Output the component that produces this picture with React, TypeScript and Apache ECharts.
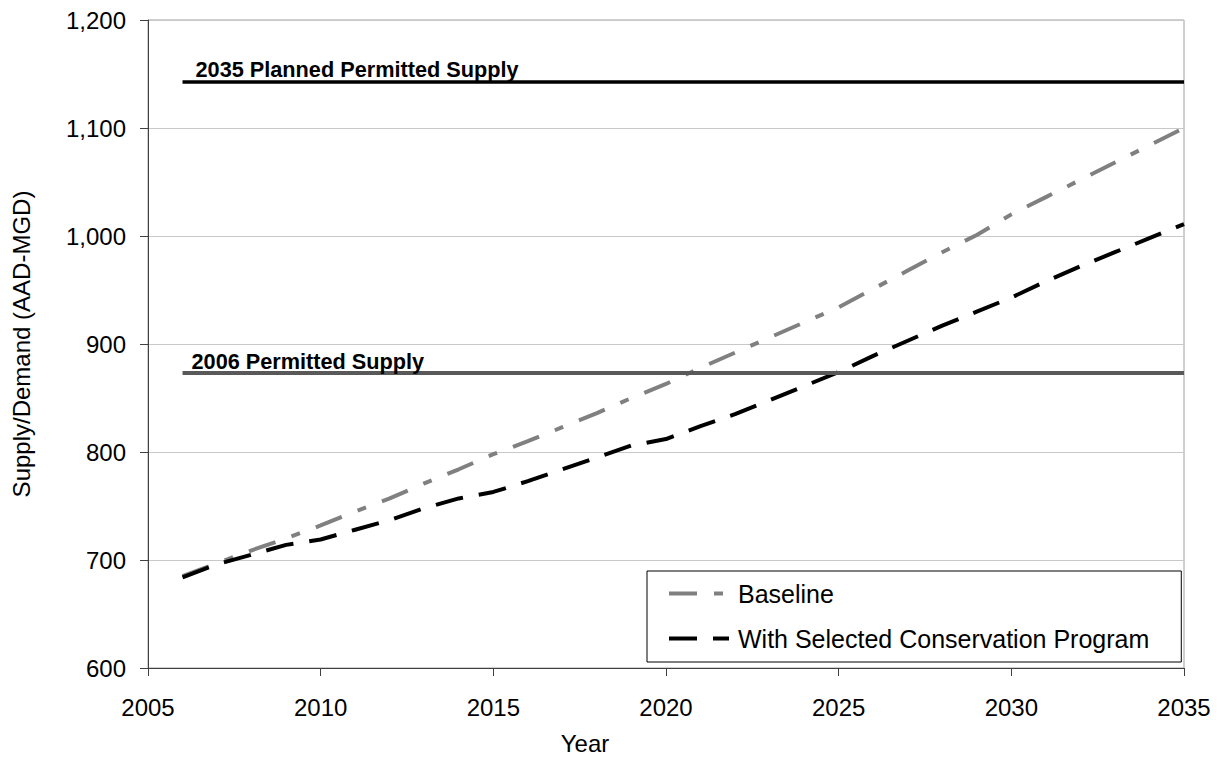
import React, { useEffect, useRef } from "react";
import * as echarts from "echarts";

const years = [
  2006, 2007, 2008, 2009, 2010, 2011, 2012, 2013, 2014, 2015,
  2016, 2017, 2018, 2019, 2020, 2021, 2022, 2023, 2024, 2025,
  2026, 2027, 2028, 2029, 2030, 2031, 2032, 2033, 2034, 2035,
];
const baseline = [
  685, 697, 709, 720, 732, 745, 757, 771, 784, 798,
  810, 823, 836, 850, 863, 878, 892, 906, 920, 934,
  951, 968, 985, 1001, 1020, 1036, 1052, 1068, 1084, 1100,
];
const conservation = [
  684, 696, 705, 714, 719, 728, 737, 748, 757, 763,
  773, 784, 795, 806, 812, 824, 835, 848, 861, 874,
  889, 903, 917, 930, 943, 958, 972, 985, 998, 1011,
];
const supplyNames = ["2035 Planned Permitted Supply", "2006 Permitted Supply"];
const supplyValues = [1143, 873];
const seriesNames = ["Baseline", "With Selected Conservation Program"];
const yTicks = [600, 700, 800, 900, 1000, 1100, 1200];
const xTicks = [2005, 2010, 2015, 2020, 2025, 2030, 2035];

const FONT = "'Liberation Sans', Arial, sans-serif";

export default function App() {
  const ref = useRef<HTMLDivElement>(null);
  useEffect(() => {
    if (!ref.current) return;
    const chart = echarts.init(ref.current, null, { renderer: "svg" });
    const startYear = years[0];
    const endYear = years[years.length - 1];
    const supplySeries = supplyNames.map((name, i) => ({
      name,
      type: "line",
      data: [],
      silent: true,
      markLine: {
        silent: true,
        symbol: "none",
        animation: false,
        lineStyle: {
          color: i === 0 ? "#000000" : "#595959",
          width: i === 0 ? 3.5 : 4,
          type: "solid",
        },
        label: {
          show: true,
          position: "insideStartTop",
          formatter: name,
          color: "#000",
          fontFamily: FONT,
          fontWeight: "bold",
          fontSize: 21.7,
          distance: [i === 0 ? 13 : 9, 1],
        },
        emphasis: { disabled: true },
        data: [[{ coord: [startYear, supplyValues[i]] }, { coord: [endYear, supplyValues[i]] }]],
      },
    }));
    chart.setOption({
      animation: false,
      backgroundColor: "#ffffff",
      textStyle: { fontFamily: FONT },
      grid: {
        left: 148,
        right: 35,
        top: 20,
        bottom: 86,
        show: true,
        borderColor: "#a0a0a0",
        borderWidth: 1,
      },
      legend: {
        data: seriesNames,
        orient: "vertical",
        left: 647,
        top: 571,
        padding: [10, 32, 11, 20],
        itemGap: 20,
        itemWidth: 60,
        itemHeight: 25,
        borderColor: "#000",
        borderWidth: 1,
        borderRadius: 0,
        backgroundColor: "#ffffff",
        itemStyle: { opacity: 0 },
        lineStyle: { width: 4 },
        textStyle: { fontSize: 25, color: "#000", fontFamily: FONT, padding: [0, 0, 0, 4] },
        selectedMode: false,
      },
      xAxis: {
        type: "value",
        min: xTicks[0],
        max: xTicks[xTicks.length - 1],
        interval: 5,
        name: "Year",
        nameLocation: "middle",
        nameGap: 63,
        nameTextStyle: { fontSize: 24, color: "#000", fontFamily: FONT, padding: [0, 162, 0, 0] },
        axisLine: { show: true, lineStyle: { color: "#404040", width: 1 } },
        axisTick: { show: true, length: 8, lineStyle: { color: "#404040" } },
        axisLabel: { fontSize: 24, color: "#000", margin: 27, fontFamily: FONT, formatter: (v: number) => String(v) },
        splitLine: { show: false },
      },
      yAxis: {
        type: "value",
        min: yTicks[0],
        max: yTicks[yTicks.length - 1],
        interval: 100,
        name: "Supply/Demand (AAD-MGD)",
        nameLocation: "middle",
        nameGap: 115,
        nameRotate: 90,
        nameTextStyle: { fontSize: 24, color: "#000", fontFamily: FONT },
        axisLine: { show: true, lineStyle: { color: "#404040", width: 1 } },
        axisTick: { show: true, length: 8, lineStyle: { color: "#404040" } },
        axisLabel: {
          fontSize: 24,
          color: "#000",
          margin: 22,
          fontFamily: FONT,
          formatter: (v: number) => v.toLocaleString("en-US"),
        },
        splitLine: { show: true, lineStyle: { color: "#c8c8c8", width: 1 } },
      },
      series: [
        ...supplySeries,
        {
          name: seriesNames[0],
          type: "line",
          symbol: "none",
          data: years.map((y, i) => [y, baseline[i]]),
          lineStyle: { color: "#808080", width: 4, type: [28, 17, 9, 17], cap: "butt" },
          itemStyle: { color: "#808080" },
          z: 3,
        },
        {
          name: seriesNames[1],
          type: "line",
          symbol: "none",
          data: years.map((y, i) => [y, conservation[i]]),
          lineStyle: { color: "#000000", width: 4, type: [28, 16], cap: "butt" },
          itemStyle: { color: "#000000" },
          z: 4,
        },
      ],
    });
    return () => chart.dispose();
  }, []);
  return <div ref={ref} style={{ width: 1219, height: 760, position: "absolute", left: 0, top: 0 }} />;
}
